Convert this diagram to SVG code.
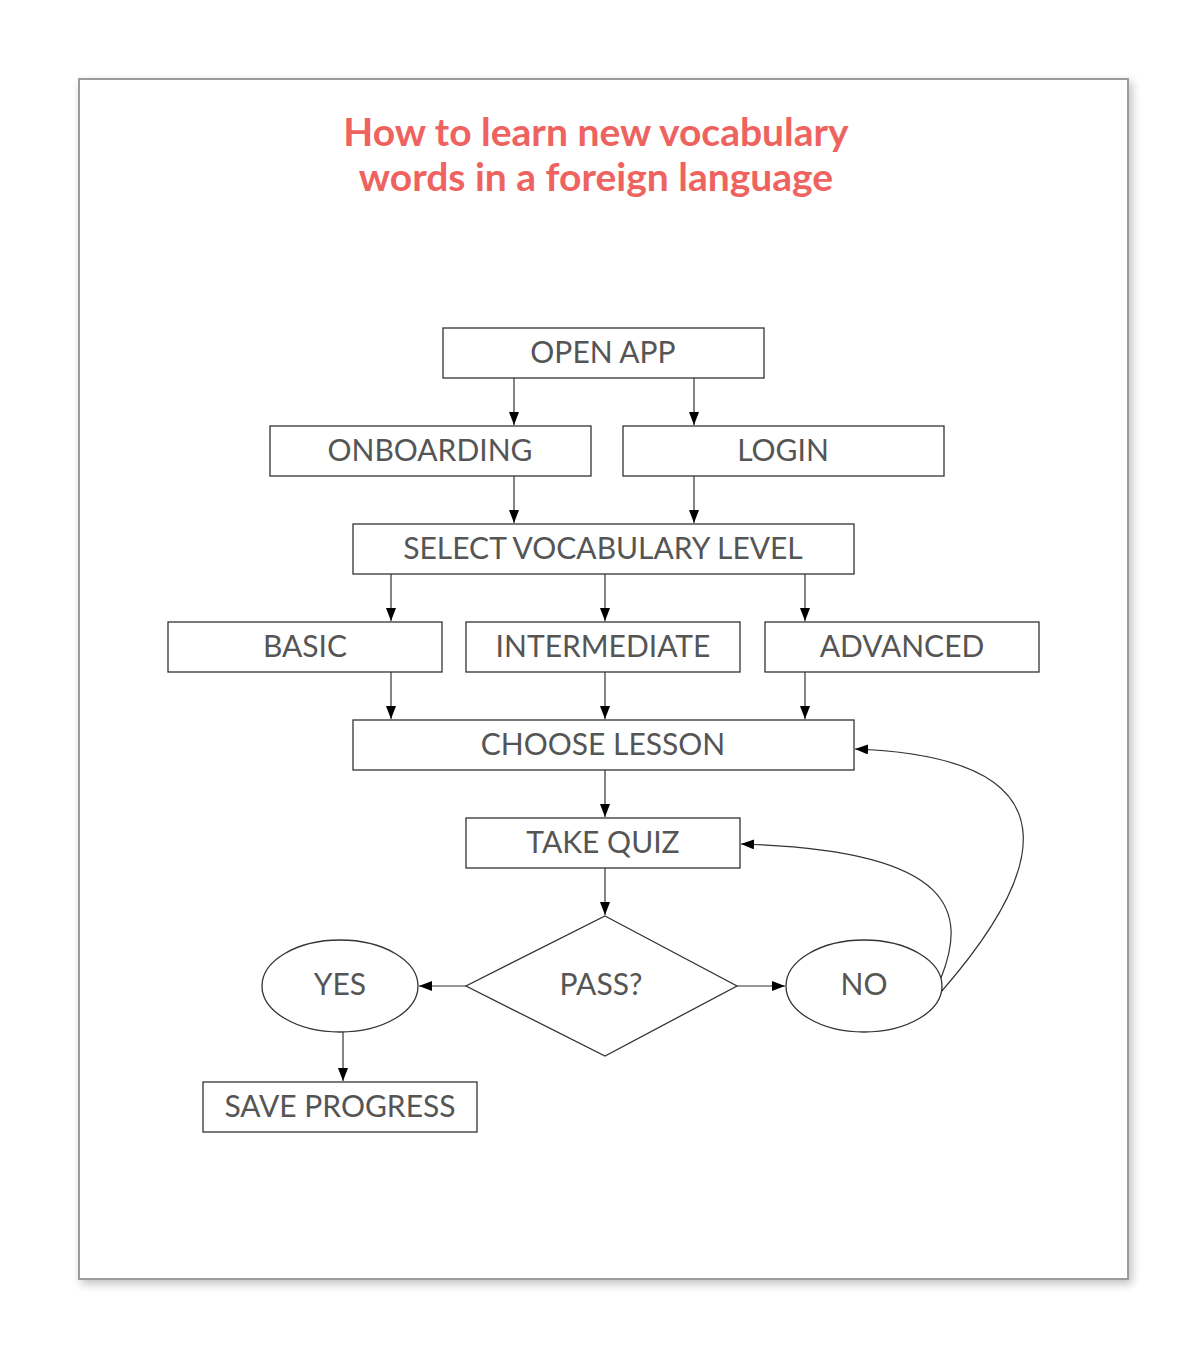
<svg xmlns="http://www.w3.org/2000/svg" width="1200" height="1347" viewBox="0 0 1200 1347">
<defs>
<filter id="sh" x="-5%" y="-5%" width="110%" height="110%">
<feGaussianBlur in="SourceAlpha" stdDeviation="5"/>
<feOffset dx="3" dy="4"/>
<feComponentTransfer><feFuncA type="linear" slope="0.25"/></feComponentTransfer>
<feMerge><feMergeNode/><feMergeNode in="SourceGraphic"/></feMerge>
</filter>
<marker id="ah" viewBox="0 0 13 10" refX="13" refY="5" markerWidth="13" markerHeight="10" markerUnits="userSpaceOnUse" orient="auto">
<path d="M0,0 L13,5 L0,10 Z" fill="#000"/>
</marker>
</defs>
<style>
.box{fill:#fff;stroke:#333;stroke-width:1.3}
.lbl{font-family:Lato,"Liberation Sans",sans-serif;font-size:30px;fill:#555;text-anchor:middle;dominant-baseline:central}
.ttl{font-family:Lato,"Liberation Sans",sans-serif;font-size:39px;font-weight:bold;fill:#ee6360;text-anchor:middle}
.c{fill:none;stroke:#333;stroke-width:1.2;marker-end:url(#ah)}
</style>
<rect x="0" y="0" width="1200" height="1347" fill="#fff"/>
<rect x="79" y="79" width="1049" height="1200" fill="#fff" stroke="#9c9c9c" stroke-width="2" filter="url(#sh)"/>
<g id="title">
<text class="ttl" x="596" y="146">How to learn new vocabulary</text>
<text class="ttl" x="596" y="191">words in a foreign language</text>
</g>
<g id="connectors">
<path class="c" d="M514 378 V425"/>
<path class="c" d="M694 378 V425"/>
<path class="c" d="M514 476 V523"/>
<path class="c" d="M694 476 V523"/>
<path class="c" d="M391 574 V621"/>
<path class="c" d="M605 574 V621"/>
<path class="c" d="M805 574 V621"/>
<path class="c" d="M391 672 V719"/>
<path class="c" d="M605 672 V719"/>
<path class="c" d="M805 672 V719"/>
<path class="c" d="M605 770 V817"/>
<path class="c" d="M605 868 V915"/>
<path class="c" d="M466 986 H419"/>
<path class="c" d="M737 986 H785"/>
<path class="c" d="M343 1032 V1081"/>
<path class="c" d="M941 978 C966 915, 960 850, 741 844"/>
<path class="c" d="M941 992 C1030 890, 1100 758, 855 749"/>
</g>
<g id="open-app"><rect class="box" x="443" y="328" width="321" height="50"/><text class="lbl" x="603" y="351">OPEN APP</text></g>
<g id="onboarding"><rect class="box" x="270" y="426" width="321" height="50"/><text class="lbl" x="430" y="449">ONBOARDING</text></g>
<g id="login"><rect class="box" x="623" y="426" width="321" height="50"/><text class="lbl" x="783" y="449">LOGIN</text></g>
<g id="select-level"><rect class="box" x="353" y="524" width="501" height="50"/><text class="lbl" x="603" y="547">SELECT VOCABULARY LEVEL</text></g>
<g id="basic"><rect class="box" x="168" y="622" width="274" height="50"/><text class="lbl" x="305" y="645">BASIC</text></g>
<g id="intermediate"><rect class="box" x="466" y="622" width="274" height="50"/><text class="lbl" x="603" y="645">INTERMEDIATE</text></g>
<g id="advanced"><rect class="box" x="765" y="622" width="274" height="50"/><text class="lbl" x="902" y="645">ADVANCED</text></g>
<g id="choose-lesson"><rect class="box" x="353" y="720" width="501" height="50"/><text class="lbl" x="603" y="743">CHOOSE LESSON</text></g>
<g id="take-quiz"><rect class="box" x="466" y="818" width="274" height="50"/><text class="lbl" x="603" y="841">TAKE QUIZ</text></g>
<g id="pass"><polygon class="box" points="605,916 737,986 605,1056 466,986"/><text class="lbl" x="601" y="983">PASS?</text></g>
<g id="yes"><ellipse class="box" cx="340" cy="986" rx="78" ry="46"/><text class="lbl" x="340" y="983">YES</text></g>
<g id="no"><ellipse class="box" cx="864" cy="986" rx="78" ry="46"/><text class="lbl" x="864" y="983">NO</text></g>
<g id="save-progress"><rect class="box" x="203" y="1082" width="274" height="50"/><text class="lbl" x="340" y="1105">SAVE PROGRESS</text></g>
</svg>
